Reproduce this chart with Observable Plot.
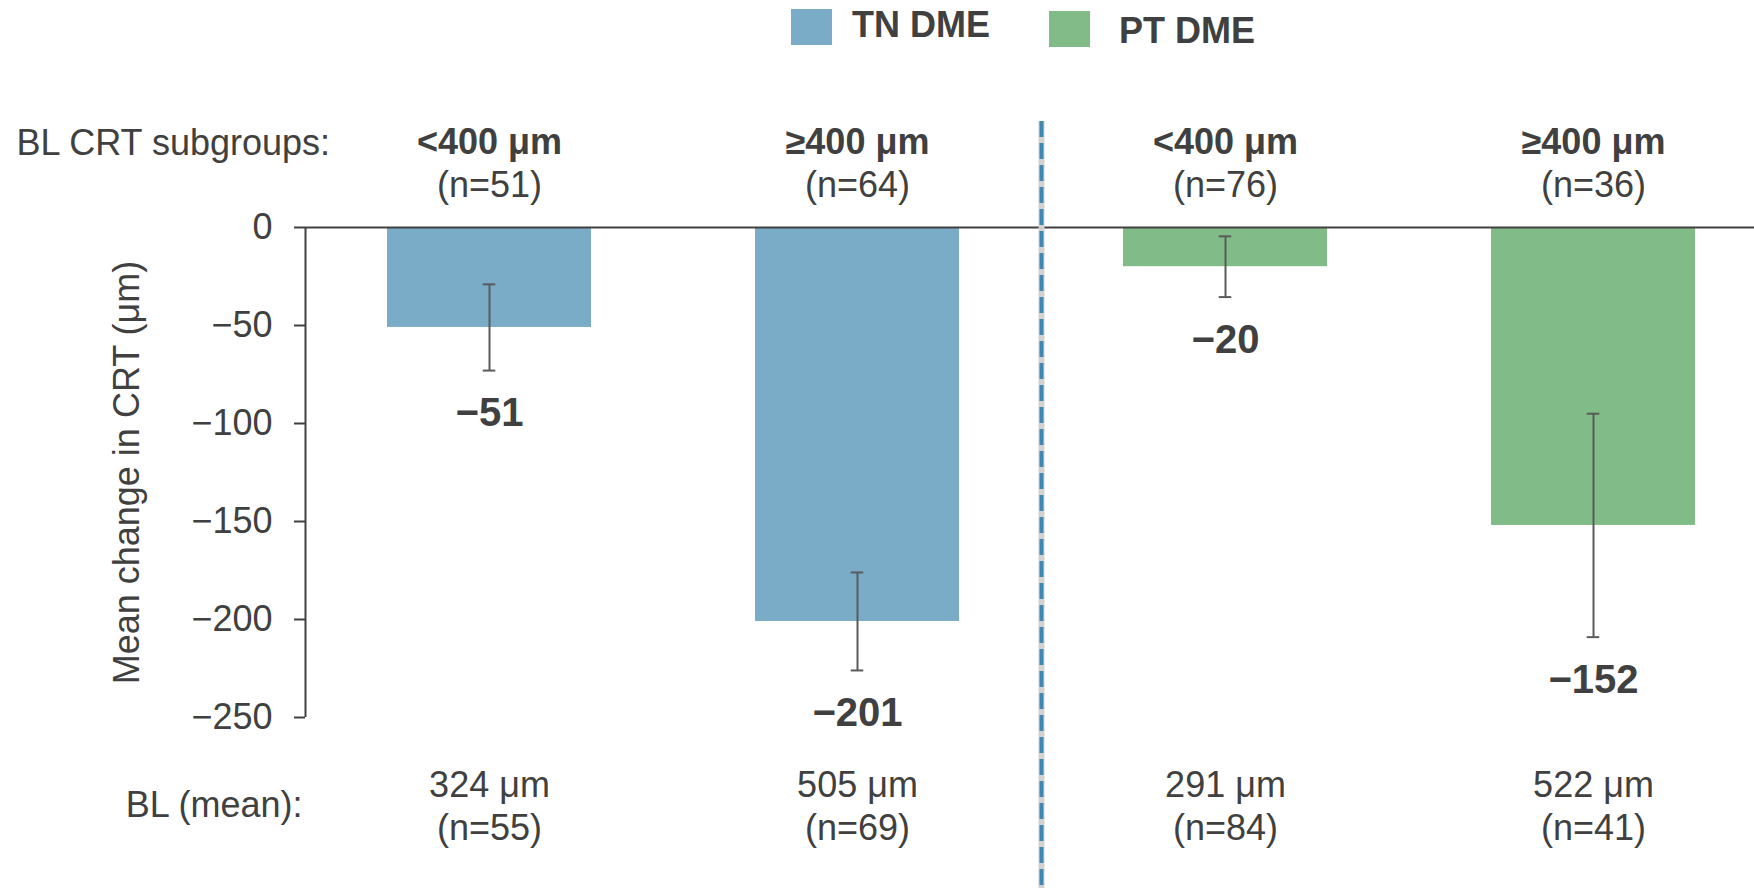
<!DOCTYPE html>
<html><head><meta charset="utf-8">
<script src="https://cdn.jsdelivr.net/npm/d3@7"></script>
<script src="https://cdn.jsdelivr.net/npm/@observablehq/plot@0.6"></script>
<style>
body{margin:0;background:#fff;font-family:"Liberation Sans",Arial,sans-serif;}
#legend{position:relative;height:60px;width:1754px;}
.sw{position:absolute;width:41px;height:36px;}
.lt{position:absolute;font-weight:bold;font-size:36px;color:#404040;line-height:36px;white-space:nowrap;}
</style></head><body>
<div id="legend"></div>
<div id="chart"></div>
<script>
// ---- data ----
const keys = ["TN <400", "TN ≥400", "PT <400", "PT ≥400"];
const groups = ["TN DME", "TN DME", "PT DME", "PT DME"];
const subgroupLabels = ["<400 μm", "≥400 μm", "<400 μm", "≥400 μm"];
const subgroupN = [51, 64, 76, 36];
const meanChange = [-51, -201, -20, -152];
const errHalf = [22, 25, 15.5, 57];
const baselineMean = [324, 505, 291, 522];
const baselineN = [55, 69, 84, 41];
const yTicks = [0, -50, -100, -150, -200, -250];
const seriesNames = ["TN DME", "PT DME"];
const seriesColors = ["#7aacc8", "#80bb88"];

const rows = keys.map((k, i) => ({
  key: k, group: groups[i], sub: subgroupLabels[i], n: subgroupN[i],
  value: meanChange[i], err: errHalf[i], bl: baselineMean[i], bln: baselineN[i]
}));

// ---- layout ----
const W = 1754, H = 828;
const xStart = 305, step = 368;
const padIn = 0.447;
const bandW = step * (1 - padIn);
const capW = 12;
const ink = "#404040";
const fmt = d3.format("d");

// legend (HTML, above the SVG)
const legend = document.getElementById("legend");
const legendPos = [
  {sw: [791, 9], tx: [852, 7]},
  {sw: [1049, 11], tx: [1119, 13]}
];
seriesNames.forEach((name, i) => {
  const s = document.createElement("div");
  s.className = "sw";
  s.style.left = legendPos[i].sw[0] + "px";
  s.style.top = legendPos[i].sw[1] + "px";
  s.style.background = seriesColors[i];
  legend.appendChild(s);
  const t = document.createElement("div");
  t.className = "lt";
  t.style.left = legendPos[i].tx[0] + "px";
  t.style.top = legendPos[i].tx[1] + "px";
  t.textContent = name;
  legend.appendChild(t);
});

const chart = Plot.plot({
  width: W,
  height: H,
  marginTop: 167,
  marginBottom: 171,
  marginLeft: xStart,
  marginRight: 0,
  style: {fontSize: "36px", fontFamily: "'Liberation Sans', Arial, sans-serif", color: ink, overflow: "visible", background: "white"},
  x: {domain: keys, range: [xStart, xStart + step * keys.length], paddingInner: padIn, paddingOuter: padIn / 2, axis: null},
  y: {domain: [-250, 0], axis: null},
  color: {domain: seriesNames, range: seriesColors},
  marks: [
    Plot.barY(rows, {x: "key", y: "value", fill: "group"}),
    // zero line & y axis line
    Plot.ruleY([0], {stroke: ink, strokeWidth: 2}),
    Plot.ruleX([keys[0]], {dx: -step / 2, stroke: ink, strokeWidth: 2}),
    Plot.axisY(yTicks, {anchor: "left", tickSize: 11, tickPadding: 22, tickFormat: fmt, label: null, stroke: ink, strokeWidth: 2, fill: ink, fontSize: 36}),
    // separator between groups
    Plot.ruleX([keys[2]], {dx: -step / 2, insetTop: -106, insetBottom: -171, stroke: "#d2d2d2", strokeWidth: 6}),
    Plot.ruleX([keys[2]], {dx: -step / 2, insetTop: -106, insetBottom: -171, stroke: "#3f86b2", strokeWidth: 4, strokeDasharray: "16,6"}),
    // error bars
    Plot.ruleX(rows, {x: "key", y1: d => d.value - d.err, y2: d => d.value + d.err, stroke: "#5a5a5a", strokeWidth: 2}),
    Plot.tickY(rows, {x: "key", y: d => d.value - d.err, insetLeft: (bandW - capW) / 2, insetRight: (bandW - capW) / 2, stroke: "#5a5a5a", strokeWidth: 2}),
    Plot.tickY(rows, {x: "key", y: d => d.value + d.err, insetLeft: (bandW - capW) / 2, insetRight: (bandW - capW) / 2, stroke: "#5a5a5a", strokeWidth: 2}),
    // value labels
    Plot.text(rows, {x: "key", y: d => d.value - d.err, text: d => fmt(d.value), dy: 43, lineAnchor: "middle", fontWeight: "bold", fontSize: 40, fill: ink}),
    // subgroup header
    Plot.text(rows, {x: "key", frameAnchor: "top", lineAnchor: "middle", text: "sub", dy: -85, fontWeight: "bold", fontSize: 36, fill: ink}),
    Plot.text(rows, {x: "key", frameAnchor: "top", lineAnchor: "middle", text: d => `(n=${d.n})`, dy: -42, fontSize: 36, fill: ink}),
    // baseline rows
    Plot.text(rows, {x: "key", frameAnchor: "bottom", lineAnchor: "middle", text: d => `${d.bl} μm`, dy: 68, fontSize: 36, fill: ink}),
    Plot.text(rows, {x: "key", frameAnchor: "bottom", lineAnchor: "middle", text: d => `(n=${d.bln})`, dy: 111, fontSize: 36, fill: ink}),
    // row labels
    Plot.text(["BL CRT subgroups:"], {frameAnchor: "top-left", lineAnchor: "middle", text: d => d, textAnchor: "start", dx: -289, dy: -84, fontSize: 36, fill: ink}),
    Plot.text(["BL (mean):"], {frameAnchor: "bottom-left", lineAnchor: "middle", text: d => d, textAnchor: "end", dx: -3, dy: 88, fontSize: 36, fill: ink}),
    // y title
    Plot.text(["Mean change in CRT (μm)"], {frameAnchor: "left", textAnchor: "middle", lineAnchor: "middle", text: d => d, rotate: -90, dx: -178, fontSize: 36, fill: ink})
  ]
});
document.getElementById("chart").appendChild(chart);
</script>
</body></html>
